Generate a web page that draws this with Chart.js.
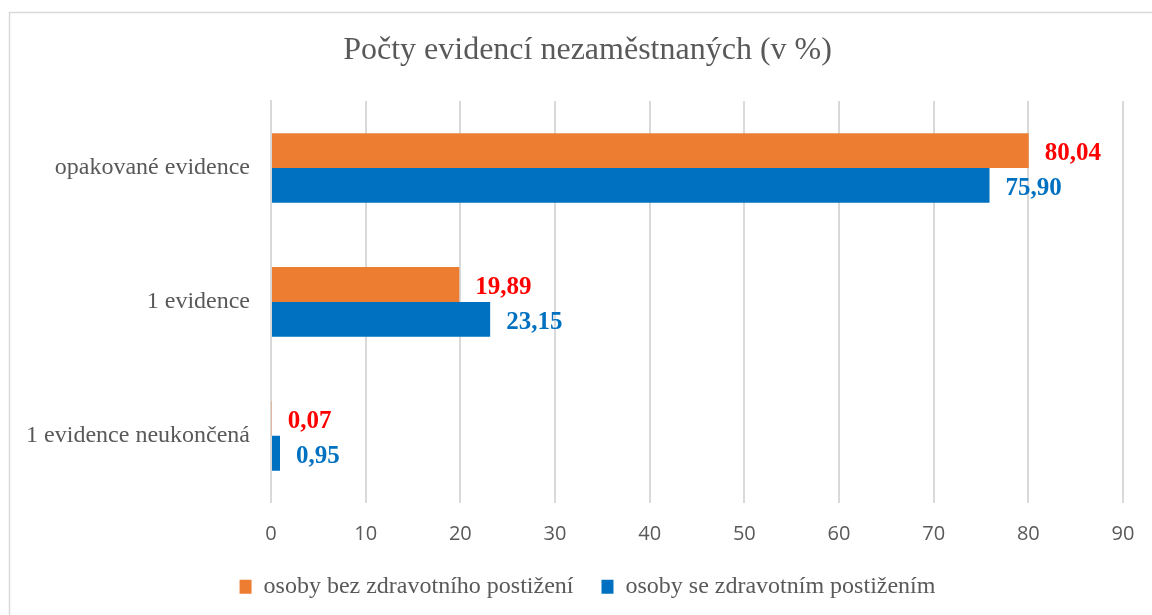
<!DOCTYPE html>
<html>
<head>
<meta charset="utf-8">
<script src="https://cdn.jsdelivr.net/npm/chart.js@4/dist/chart.umd.min.js"></script>
<style>
  html, body { margin: 0; padding: 0; background: #fff; overflow: hidden; }
  #wrap { width: 1152px; height: 615px; overflow: hidden; }
  #inner { width: 1175px; height: 615px; position: relative; }
</style>
</head>
<body>
<div id="wrap"><div id="inner"><canvas id="graf"></canvas></div></div>
<script>
// data
const kategorie = ["opakované evidence", "1 evidence", "1 evidence neukončená"];
const bezPostizeni = [80.04, 19.89, 0.07];
const sePostizenim = [75.90, 23.15, 0.95];
const nazvyRad = ["osoby bez zdravotního postižení", "osoby se zdravotním postižením"];
const barvyRad = ["#ED7D31", "#0070C0"];
const barvyPopisku = ["#FF0000", "#0070C0"];

const serif = "'Liberation Serif', 'Times New Roman', serif";

// popisky hodnot vedle sloupcu
const popiskyHodnot = {
  id: "popiskyHodnot",
  afterDatasetsDraw(chart) {
    const ctx = chart.ctx;
    ctx.save();
    ctx.font = "bold 25px " + serif;
    ctx.textBaseline = "middle";
    ctx.textAlign = "left";
    chart.data.datasets.forEach((ds, i) => {
      const meta = chart.getDatasetMeta(i);
      meta.data.forEach((bar, j) => {
        ctx.fillStyle = barvyPopisku[i];
        ctx.fillText(ds.data[j].toFixed(2).replace(".", ","), bar.x + 16, bar.y + 3);
      });
    });
    ctx.restore();
  }
};

// ramecek kolem grafu
const ramecek = {
  id: "ramecek",
  beforeDraw(chart) {
    const ctx = chart.ctx;
    ctx.save();
    ctx.strokeStyle = "#d9d9d9";
    ctx.lineWidth = 1.5;
    ctx.strokeRect(9.5, 12.5, 1300, 700);
    ctx.restore();
  }
};

new Chart(document.getElementById("graf"), {
  type: "bar",
  data: {
    labels: kategorie,
    datasets: [
      {
        label: nazvyRad[0],
        data: bezPostizeni,
        backgroundColor: barvyRad[0],
        borderWidth: 0,
        categoryPercentage: 0.52,
        barPercentage: 1.0
      },
      {
        label: nazvyRad[1],
        data: sePostizenim,
        backgroundColor: barvyRad[1],
        borderWidth: 0,
        categoryPercentage: 0.52,
        barPercentage: 1.0
      }
    ]
  },
  options: {
    indexAxis: "y",
    responsive: true,
    maintainAspectRatio: false,
    animation: false,
    layout: { padding: { left: 0, right: 0, top: 0, bottom: 6.2 } },
    scales: {
      x: {
        min: 0,
        max: 90,
        ticks: {
          stepSize: 10,
          color: "#595959",
          font: { family: "'Open Sans', sans-serif", size: 20 },
          padding: 19
        },
        grid: { color: "#d9d9d9", lineWidth: 2, drawTicks: false },
        border: { display: false },
        afterFit(scale) { scale.height = 44; }
      },
      y: {
        ticks: {
          color: "#595959",
          font: { family: serif, size: 24 },
          padding: 21
        },
        grid: { display: false, drawTicks: false },
        border: { display: true, color: "#d9d9d9", width: 2 },
        afterFit(scale) { scale.width = 271; }
      },
      // prazdna osa vpravo, jen kvuli mistu
      yPrava: {
        type: "category",
        position: "right",
        ticks: { display: false },
        grid: { display: false, drawTicks: false },
        border: { display: false },
        afterFit(scale) { scale.width = 52; }
      }
    },
    plugins: {
      title: {
        display: true,
        text: "Počty evidencí nezaměstnaných (v %)",
        color: "#595959",
        font: { family: serif, size: 32, weight: "normal" },
        padding: { top: 31, bottom: 31.6 }
      },
      legend: {
        position: "bottom",
        labels: {
          color: "#595959",
          font: { family: serif, size: 24 },
          boxWidth: 12,
          boxHeight: 14,
          padding: 28
        }
      },
      tooltip: { enabled: false }
    }
  },
  plugins: [popiskyHodnot, ramecek]
});
</script>
</body>
</html>
